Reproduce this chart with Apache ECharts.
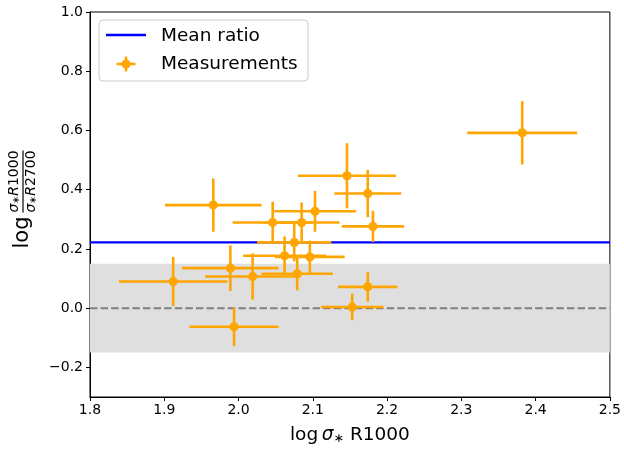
<!DOCTYPE html>
<html>
<head>
<meta charset="utf-8">
<script src="https://cdn.jsdelivr.net/npm/echarts@6/dist/echarts.min.js"></script>
<style>
  html, body { margin: 0; padding: 0; background: #fff; }
  #chart { width: 624px; height: 450px; }
</style>
</head>
<body>
<div id="chart"></div>
<script>
// log sigma* from the R1000 spectra and log ratio R1000 / R2700, with 1-sigma errors
const logSigmaR1000 = [1.966, 2.046, 2.085, 2.103, 2.075, 2.146, 2.174, 2.181, 1.912, 1.989, 2.019, 1.994, 2.062, 2.096, 2.079, 2.153, 2.174, 2.382];
const logRatio      = [0.348, 0.289, 0.289, 0.327, 0.222, 0.447, 0.387, 0.276, 0.090, 0.135, 0.107, -0.063, 0.177, 0.173, 0.116, 0.004, 0.072, 0.592];
const errX          = [0.065, 0.054, 0.051, 0.055, 0.050, 0.066, 0.045, 0.042, 0.073, 0.065, 0.064, 0.060, 0.056, 0.047, 0.048, 0.042, 0.040, 0.074];
const errY          = [0.090, 0.070, 0.068, 0.069, 0.064, 0.110, 0.080, 0.053, 0.083, 0.077, 0.078, 0.065, 0.065, 0.055, 0.056, 0.045, 0.050, 0.107];
const meanRatio = 0.222;
const bandHalfWidth = 0.15;
const xTicks = [1.8, 1.9, 2.0, 2.1, 2.2, 2.3, 2.4, 2.5];
const yTicks = [-0.2, 0.0, 0.2, 0.4, 0.6, 0.8, 1.0];
const legendLabels = ['Mean ratio', 'Measurements'];

const FONT = 'DejaVu Sans';
const ORANGE = '#ffa500';
const BLUE = '#0000ff';

const points = logSigmaR1000.map((x, i) => [x, logRatio[i], errX[i], errY[i]]);
const xMin = xTicks[0], xMax = xTicks[xTicks.length - 1];

const chart = echarts.init(document.getElementById('chart'), null, { renderer: 'canvas' });

function fmt(v) {
  const s = Math.abs(v).toFixed(1);
  return v < -1e-9 ? '\u2212' + s : s;
}

const fracRich = {
  s: { font: 'italic 14px "DejaVu Sans"', fill: '#000' },
  c: { font: '9.5px "DejaVu Sans"', fill: '#000', verticalAlign: 'bottom' },
  r: { font: 'italic 14px "DejaVu Sans"', fill: '#000' },
  d: { font: '14px "DejaVu Sans"', fill: '#000' }
};

const option = {
  animation: false,
  backgroundColor: '#fff',
  grid: { left: 90, right: 13, top: 12, bottom: 50, show: true, borderColor: '#000', borderWidth: 1, backgroundColor: 'transparent' },
  xAxis: {
    type: 'value', min: xMin, max: xMax, interval: 0.1,
    axisLine: { show: true, onZero: false, lineStyle: { color: '#000', width: 1 } },
    axisTick: { show: true, inside: false, length: 4, lineStyle: { color: '#000', width: 1 } },
    axisLabel: { color: '#000', fontSize: 14, fontFamily: FONT, margin: 6, formatter: fmt, customValues: xTicks },
    splitLine: { show: false },
    name: '{a|log\u2009}{b|\u03c3}{c|\u2217}{a| R1000}',
    nameLocation: 'middle', nameGap: 29,
    nameTextStyle: {
      color: '#000', fontFamily: FONT, fontSize: 18.5,
      rich: {
        a: { fontSize: 18.5, fontFamily: FONT, color: '#000' },
        b: { fontSize: 18.5, fontFamily: FONT, fontStyle: 'italic', color: '#000' },
        c: { fontSize: 12.5, fontFamily: FONT, color: '#000', verticalAlign: 'bottom', padding: [6, 0, 0, 0] }
      }
    }
  },
  yAxis: {
    type: 'value', min: -0.3, max: 1.0,
    axisLine: { show: true, onZero: false, lineStyle: { color: '#000', width: 1 } },
    axisTick: { show: true, inside: false, length: 4, lineStyle: { color: '#000', width: 1 }, customValues: yTicks },
    axisLabel: { color: '#000', fontSize: 14, fontFamily: FONT, margin: 7, formatter: fmt, customValues: yTicks },
    splitLine: { show: false }
  },
  series: [
    {
      // zero reference with the +/- band
      type: 'line', name: 'zero', z: 1,
      data: [[xMin, 0], [xMax, 0]],
      showSymbol: false, symbol: 'none', silent: true,
      lineStyle: { color: '#808080', width: 2, type: [7.4, 3.2] },
      markArea: {
        silent: true,
        itemStyle: { color: '#dfdfdf' },
        data: [[{ yAxis: -bandHalfWidth }, { yAxis: bandHalfWidth }]]
      }
    },
    {
      type: 'line', name: legendLabels[0], z: 2,
      data: [[xMin, meanRatio], [xMax, meanRatio]],
      showSymbol: false, symbol: 'none', silent: true,
      lineStyle: { color: BLUE, width: 2.3 }
    },
    {
      type: 'custom', name: legendLabels[1], z: 3, clip: true,
      data: points,
      encode: { x: 0, y: 1 },
      renderItem: function (params, api) {
        const x = api.value(0), y = api.value(1), ex = api.value(2), ey = api.value(3);
        const c = api.coord([x, y]);
        const l = api.coord([x - ex, y]), r = api.coord([x + ex, y]);
        const t = api.coord([x, y + ey]), b = api.coord([x, y - ey]);
        const st = { stroke: ORANGE, lineWidth: 2.6 };
        return {
          type: 'group',
          children: [
            { type: 'line', shape: { x1: l[0], y1: l[1], x2: r[0], y2: r[1] }, style: st },
            { type: 'line', shape: { x1: t[0], y1: t[1], x2: b[0], y2: b[1] }, style: st },
            { type: 'circle', shape: { cx: c[0], cy: c[1], r: 4.6 }, style: { fill: ORANGE } }
          ]
        };
      }
    }
  ],
  graphic: [
    // y-axis title: log of the sigma ratio, drawn as a fraction
    {
      type: 'group', x: 23, y: 248.5, rotation: Math.PI / 2, silent: true,
      children: [
        { type: 'text', x: 0, y: 0, style: { text: 'log', font: '21px "DejaVu Sans"', fill: '#000', align: 'left', verticalAlign: 'middle', textAlign: 'left', textVerticalAlign: 'middle' } },
        { type: 'rect', shape: { x: 36, y: -0.6, width: 62, height: 1.2 }, style: { fill: '#000' } },
        { type: 'text', x: 67, y: -1.5, style: {
            text: '{s|\u03c3}{c|\u2217}{r|R}{d|1000}', fill: '#000', align: 'center', verticalAlign: 'bottom', textAlign: 'center', textVerticalAlign: 'bottom',
            rich: fracRich } },
        { type: 'text', x: 67, y: 1.8, style: {
            text: '{s|\u03c3}{c|\u2217}{r|R}{d|2700}', fill: '#000', align: 'center', verticalAlign: 'top', textAlign: 'center', textVerticalAlign: 'top',
            rich: fracRich } }
      ]
    },
    // legend box
    {
      type: 'group', x: 99, y: 20, silent: true,
      children: [
        { type: 'rect', shape: { x: 0, y: 0, width: 209, height: 61, r: 4 }, style: { fill: 'rgba(255,255,255,0.8)', stroke: '#cccccc', lineWidth: 1 } },
        { type: 'line', shape: { x1: 7, y1: 15, x2: 47, y2: 15 }, style: { stroke: BLUE, lineWidth: 2.3 } },
        { type: 'text', x: 62, y: 16, style: { text: legendLabels[0], font: '18.5px "DejaVu Sans"', fill: '#000', align: 'left', verticalAlign: 'middle', textAlign: 'left', textVerticalAlign: 'middle' } },
        { type: 'line', shape: { x1: 17.5, y1: 44, x2: 36.5, y2: 44 }, style: { stroke: ORANGE, lineWidth: 2.6 } },
        { type: 'line', shape: { x1: 27, y1: 36.5, x2: 27, y2: 51.5 }, style: { stroke: ORANGE, lineWidth: 2.6 } },
        { type: 'circle', shape: { cx: 27, cy: 44, r: 4.6 }, style: { fill: ORANGE } },
        { type: 'text', x: 62, y: 44, style: { text: legendLabels[1], font: '18.5px "DejaVu Sans"', fill: '#000', align: 'left', verticalAlign: 'middle', textAlign: 'left', textVerticalAlign: 'middle' } }
      ]
    }
  ]
};

chart.setOption(option);
</script>
</body>
</html>
